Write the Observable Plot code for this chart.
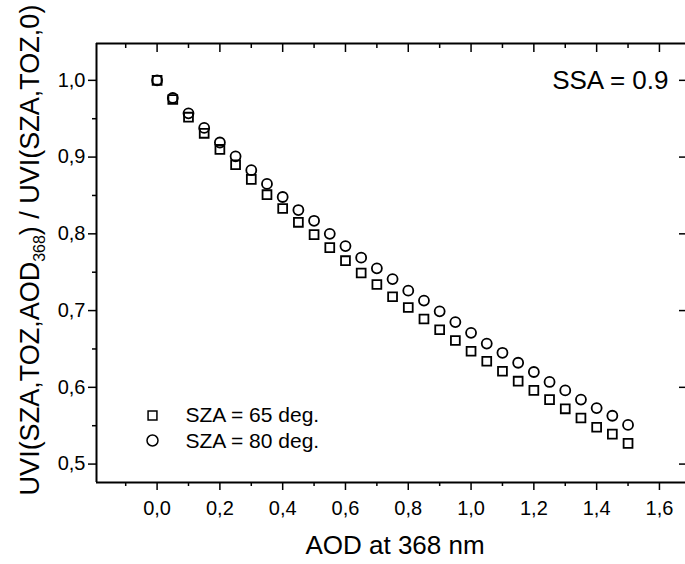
<!DOCTYPE html>
<html><head><meta charset="utf-8">
<script src="https://cdn.jsdelivr.net/npm/d3@7"></script>
<script src="https://cdn.jsdelivr.net/npm/@observablehq/plot@0.6"></script>
<style>body{margin:0;background:#fff;}</style>
</head><body><div id="chart"></div>
<script>
// ---- data ----
const aod = [0.00,0.05,0.10,0.15,0.20,0.25,0.30,0.35,0.40,0.45,0.50,0.55,0.60,0.65,0.70,0.75,0.80,0.85,0.90,0.95,1.00,1.05,1.10,1.15,1.20,1.25,1.30,1.35,1.40,1.45,1.50];
const uviSza65 = [1.000,0.975,0.952,0.931,0.910,0.890,0.871,0.851,0.833,0.815,0.799,0.782,0.765,0.749,0.734,0.718,0.704,0.689,0.675,0.661,0.647,0.634,0.621,0.608,0.596,0.584,0.572,0.560,0.548,0.539,0.527];
const uviSza80 = [1.000,0.977,0.957,0.938,0.919,0.901,0.883,0.865,0.848,0.831,0.817,0.800,0.784,0.769,0.755,0.741,0.726,0.713,0.699,0.685,0.671,0.657,0.645,0.632,0.620,0.607,0.596,0.584,0.573,0.563,0.551];
const seriesLabels = ["SZA = 65 deg.", "SZA = 80 deg."];
const annotation = "SSA = 0.9";
const xTitle = "AOD at 368 nm";
const xMajorTicks = [0.0,0.2,0.4,0.6,0.8,1.0,1.2,1.4,1.6];
const xMinorTicks = [-0.1,0.1,0.3,0.5,0.7,0.9,1.1,1.3,1.5];
const yMajorTicks = [0.5,0.6,0.7,0.8,0.9,1.0];
const yMinorTicks = [0.55,0.65,0.75,0.85,0.95];
const xDomain = [-0.193, 1.683];
const yDomain = [0.476, 1.048];

// ---- layout ----
const W = 685, H = 564, mL = 96, mR = 0, mT = 43, mB = 82;
const plotW = W - mL - mR, plotH = H - mT - mB;
const font = "'Liberation Sans', Arial, Helvetica, sans-serif";
const fmt = d => d3.format(".1f")(d).replace(".", ",");
const blank = () => "";

const rows65 = aod.map((x, i) => ({x, y: uviSza65[i]}));
const rows80 = aod.map((x, i) => ({x, y: uviSza80[i]}));

const plot = Plot.plot({
  width: W, height: H,
  marginLeft: mL, marginRight: mR, marginTop: mT, marginBottom: mB,
  style: {fontFamily: font, background: "white", color: "black", fontSize: "20px"},
  x: {domain: xDomain, axis: null},
  y: {domain: yDomain, axis: null},
  marks: [
    // bottom axis
    Plot.axisX({anchor: "bottom", ticks: xMajorTicks, tickFormat: fmt, tickSize: 8, tickPadding: 10, fontSize: 20, label: null, strokeWidth: 1.5}),
    Plot.axisX({anchor: "bottom", ticks: xMinorTicks, tickFormat: blank, tickSize: 4, label: null, strokeWidth: 1.5}),
    // left axis
    Plot.axisY({anchor: "left", ticks: yMajorTicks, tickFormat: fmt, tickSize: 8, tickPadding: 3, fontSize: 20, label: null, strokeWidth: 1.5}),
    Plot.axisY({anchor: "left", ticks: yMinorTicks, tickFormat: blank, tickSize: 4, label: null, strokeWidth: 1.5}),
    // top inward ticks
    Plot.ruleX(xMajorTicks, {insetBottom: plotH - 9, stroke: "black", strokeWidth: 1.5}),
    Plot.ruleX(xMinorTicks, {insetBottom: plotH - 5, stroke: "black", strokeWidth: 1.5}),
    // right inward ticks
    Plot.ruleY(yMajorTicks, {insetLeft: plotW - 6, stroke: "black", strokeWidth: 1.5}),
    // frame (left, top, bottom)
    Plot.ruleX([xDomain[0]], {stroke: "black", strokeWidth: 2}),
    Plot.ruleY([yDomain[0], yDomain[1]], {stroke: "black", strokeWidth: 2}),
    // data
    Plot.dot(rows65, {x: "x", y: "y", symbol: "square", r: 5, stroke: "black", strokeWidth: 1.8, fill: "none"}),
    Plot.dot(rows80, {x: "x", y: "y", symbol: "circle", r: 5, stroke: "black", strokeWidth: 1.8, fill: "none"}),
    // annotation
    Plot.text([annotation], {frameAnchor: "top-right", dx: -17, dy: 37, textAnchor: "end", lineAnchor: "middle", fontSize: 26, fill: "black"}),
    // legend
    Plot.dot([seriesLabels[0]], {frameAnchor: "bottom-left", dx: 56, dy: -67, symbol: "square", r: 5, stroke: "black", strokeWidth: 1.5, fill: "none"}),
    Plot.dot([seriesLabels[1]], {frameAnchor: "bottom-left", dx: 56, dy: -42, symbol: "circle", r: 5.5, stroke: "black", strokeWidth: 1.5, fill: "none"}),
    Plot.text([seriesLabels[0]], {frameAnchor: "bottom-left", dx: 89, dy: -67, textAnchor: "start", lineAnchor: "middle", fontSize: 21, fill: "black"}),
    Plot.text([seriesLabels[1]], {frameAnchor: "bottom-left", dx: 89, dy: -41, textAnchor: "start", lineAnchor: "middle", fontSize: 21, fill: "black"}),
    // x title
    Plot.text([xTitle], {frameAnchor: "bottom", dx: 4, dy: 63, textAnchor: "middle", lineAnchor: "middle", fontSize: 26, fill: "black"})
  ]
});

// y title with subscript
const svg = d3.select(plot);
const yt = svg.append("text")
  .attr("transform", "translate(39,250) rotate(-90)")
  .attr("text-anchor", "middle")
  .attr("font-family", font)
  .attr("font-size", 27)
  .attr("fill", "black");
yt.append("tspan").text("UVI(SZA,TOZ,AOD");
yt.append("tspan").attr("font-size", 16).attr("dy", 6).text("368");
yt.append("tspan").attr("dy", -6).text(") / UVI(SZA,TOZ,0)");

document.getElementById("chart").appendChild(plot);
</script>
</body></html>
